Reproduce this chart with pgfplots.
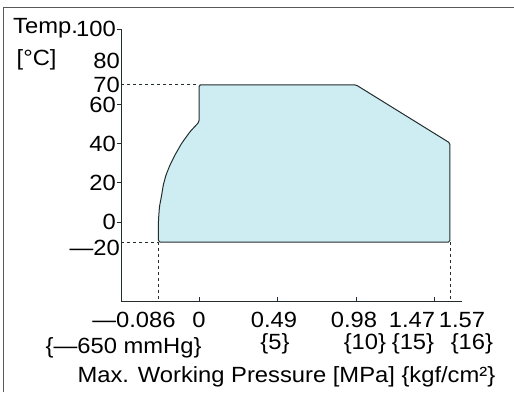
\documentclass[border=0pt]{standalone}
\usepackage{pgfplots}
\pgfplotsset{compat=1.18}
\usepackage{fontspec}
\setmainfont{Liberation Sans}[FakeStretch=1.08]
\newcommand{\lf}{\fontsize{22}{25}\selectfont}
\definecolor{fillc}{RGB}{206,237,242}
\definecolor{linec}{RGB}{35,45,45}
\begin{document}
\begin{tikzpicture}
\begin{axis}[
  at={(0,0)}, anchor=south west,
  scale only axis, width=341pt, height=272pt,
  xmin=-0.487, xmax=1.642, ymin=-40.3, ymax=98.5,
  axis x line=bottom, axis y line=left,
  axis line style={-, line width=0.9pt, color=linec},
  clip=false,
  tick align=outside,
  major tick length=4pt,
  xtick={0,0.49,0.98,1.47}, xticklabels={},
  xtick style={yshift=4pt, line width=0.8pt, color=linec},
  ytick style={line width=0.8pt, color=linec},
  ytick={0,20,40,60,98.5}, yticklabels={0,20,40,60,100},
  extra y ticks={-13.3,70,82.1}, extra y tick labels={—20,70,80},
  extra y tick style={major tick length=0pt},
  yticklabel style={font=\lf, anchor=east, inner sep=0pt, xshift=-1pt},
]
\addplot[fill=fillc, draw=linec, line width=1pt, rounded corners=1.5pt] coordinates {
 (0,70) (0.98,70) (1.567,40.3) (1.567,-10.2) (-0.253,-10.2) (-0.253,-8.2)
 (-0.253,1.0) (-0.247,7.7) (-0.233,13.8) (-0.223,18.9) (-0.206,24.0)
 (-0.181,29.1) (-0.150,34.2) (-0.108,40.2) (-0.056,46.1) (0,51)} -- cycle;
\addplot[linec, line width=0.8pt, dash pattern=on 3pt off 3pt] coordinates {(-0.487,70) (0,70)};
\addplot[linec, line width=0.8pt, dash pattern=on 3pt off 3pt] coordinates {(-0.487,-10.2) (-0.253,-10.2)};
\addplot[linec, line width=0.8pt, dash pattern=on 3pt off 3pt] coordinates {(-0.253,-10.2) (-0.253,-40.3)};
\addplot[linec, line width=0.8pt, dash pattern=on 3pt off 3pt] coordinates {(1.567,-10.2) (1.567,-40.3)};
% x tick labels (baselines)
\node[font=\lf, inner sep=0pt, anchor=base] at (axis cs:-0.406,-53.6) {—0.086};
\node[font=\lf, inner sep=0pt, anchor=base] at (axis cs:0,-53.6) {0};
\node[font=\lf, inner sep=0pt, anchor=base] at (axis cs:0.468,-53.6) {0.49};
\node[font=\lf, inner sep=0pt, anchor=base] at (axis cs:0.968,-53.6) {0.98};
\node[font=\lf, inner sep=0pt, anchor=base] at (axis cs:1.33,-53.6) {1.47};
\node[font=\lf, inner sep=0pt, anchor=base] at (axis cs:1.642,-53.6) {1.57};
\node[font=\lf, inner sep=0pt, anchor=base] at (axis cs:-0.471,-67.0) {\{—650 mmHg\}};
\node[font=\lf, inner sep=0pt, anchor=base] at (axis cs:0.474,-65.0) {\{5\}};
\node[font=\lf, inner sep=0pt, anchor=base] at (axis cs:1.036,-65.0) {\{10\}};
\node[font=\lf, inner sep=0pt, anchor=base] at (axis cs:1.336,-65.0) {\{15\}};
\node[font=\lf, inner sep=0pt, anchor=base] at (axis cs:1.704,-65.0) {\{16\}};
\node[font=\lf, inner sep=0pt, anchor=base] at (axis cs:0.546,-82.1) {Max. Working Pressure [MPa] \{kgf/cm²\}};
\node[font=\lf, inner sep=0pt, anchor=base] at (axis cs:-0.958,96.4) {Temp.};
\node[font=\lf, inner sep=0pt, anchor=base] at (axis cs:-1.014,80.1) {[°C]};
\end{axis}
\draw[line width=1pt, color=black!65] (-117pt,-91pt) -- (-117pt,294pt) -- (393pt,294pt);
\pgfresetboundingbox
\path (-121pt,-91pt) rectangle (393pt,301pt);
\end{tikzpicture}
\end{document}
